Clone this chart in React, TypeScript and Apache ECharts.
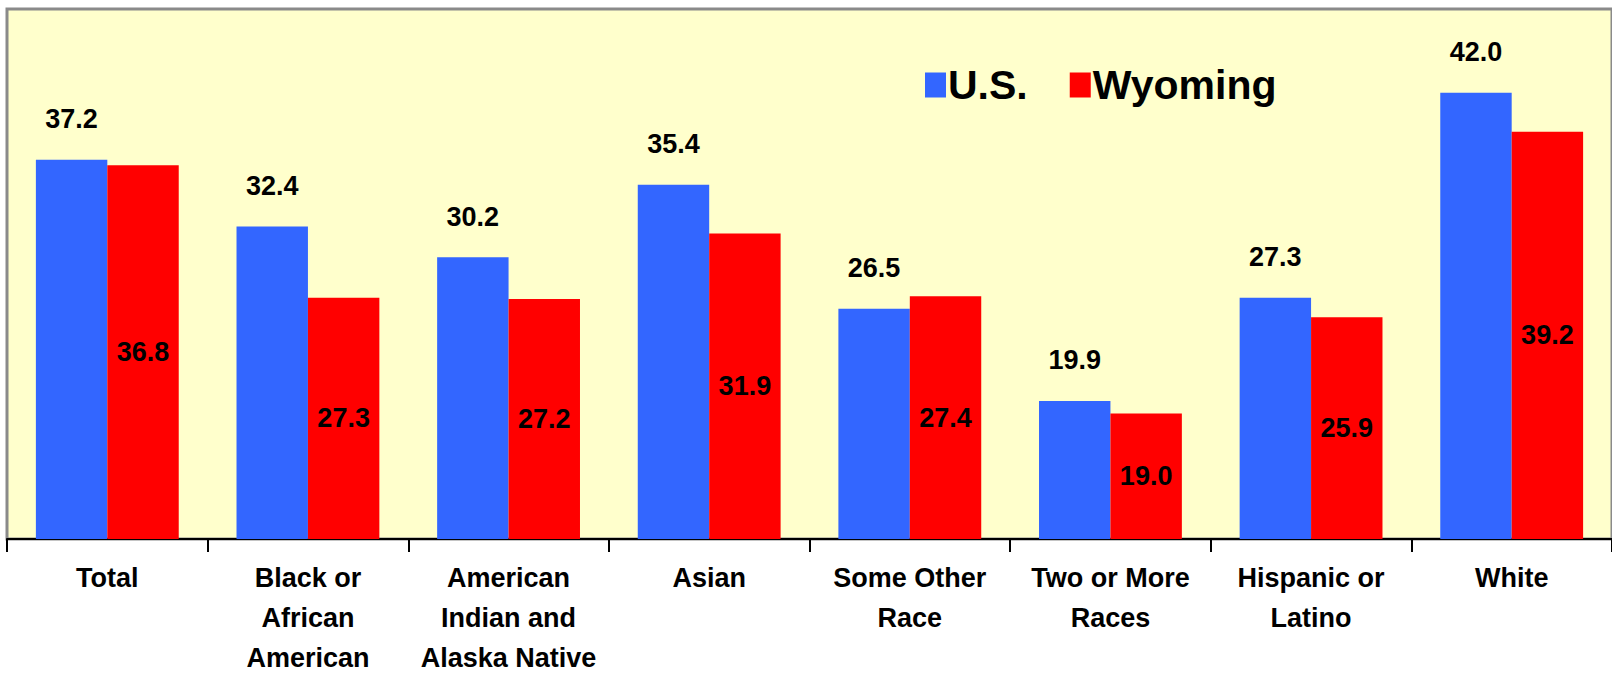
import React, { useEffect, useRef } from "react";
import * as echarts from "echarts";

const categories = [
  "Total",
  "Black or\nAfrican\nAmerican",
  "American\nIndian and\nAlaska Native",
  "Asian",
  "Some Other\nRace",
  "Two or More\nRaces",
  "Hispanic or\nLatino",
  "White",
];
const usValues = [37.2, 32.4, 30.2, 35.4, 26.5, 19.9, 27.3, 42.0];
const wyomingValues = [36.8, 27.3, 27.2, 31.9, 27.4, 19.0, 25.9, 39.2];
const seriesNames = ["U.S.", "Wyoming"];

const FONT = "'Liberation Sans', Arial, sans-serif";

export default function App() {
  const ref = useRef<HTMLDivElement>(null);
  useEffect(() => {
    if (!ref.current) return;
    const chart = echarts.init(ref.current, null, { renderer: "svg" });
    chart.setOption({
      animation: false,
      backgroundColor: "#FFFFFF",
      grid: {
        left: 7,
        right: 0,
        top: 9,
        bottom: 139,
        show: true,
        backgroundColor: "#FFFFCC",
        borderColor: "#8a8a8a",
        borderWidth: 3,
      },
      legend: {
        data: seriesNames,
        left: 920,
        top: 59,
        icon: "rect",
        itemWidth: 21,
        itemHeight: 25,
        itemGap: 42,
        textStyle: {
          fontFamily: FONT,
          fontWeight: "bold",
          fontSize: 41,
          color: "#000",
          lineHeight: 42,
          padding: [0, 0, 0, -3],
        },
      },
      xAxis: {
        type: "category",
        data: categories,
        axisLine: { lineStyle: { color: "#000", width: 2 } },
        axisTick: { show: true, length: 13, lineStyle: { color: "#000", width: 2 } },
        axisLabel: {
          interval: 0,
          margin: 19,
          fontFamily: FONT,
          fontWeight: "bold",
          fontSize: 27,
          lineHeight: 40,
          color: "#000",
        },
      },
      yAxis: {
        type: "value",
        min: 10,
        max: 48,
        show: false,
        splitLine: { show: false },
      },
      series: [
        {
          name: seriesNames[0],
          type: "bar",
          data: usValues,
          barGap: "0%",
          barCategoryGap: "28.8%",
          itemStyle: { color: "#3366FF" },
          label: {
            show: true,
            position: "top",
            distance: 27,
            formatter: (p: any) => Number(p.value).toFixed(1),
            fontFamily: FONT,
            fontWeight: "bold",
            fontSize: 27,
            color: "#000",
          },
        },
        {
          name: seriesNames[1],
          type: "bar",
          data: wyomingValues,
          barGap: "0%",
          barCategoryGap: "28.8%",
          itemStyle: { color: "#FF0000" },
          label: {
            show: true,
            position: "inside",
            formatter: (p: any) => Number(p.value).toFixed(1),
            fontFamily: FONT,
            fontWeight: "bold",
            fontSize: 27,
            color: "#000",
          },
        },
      ],
    });
    return () => chart.dispose();
  }, []);
  return (
    <div
      ref={ref}
      style={{ position: "fixed", left: 0, top: 0, width: 1612, height: 678 }}
    />
  );
}
